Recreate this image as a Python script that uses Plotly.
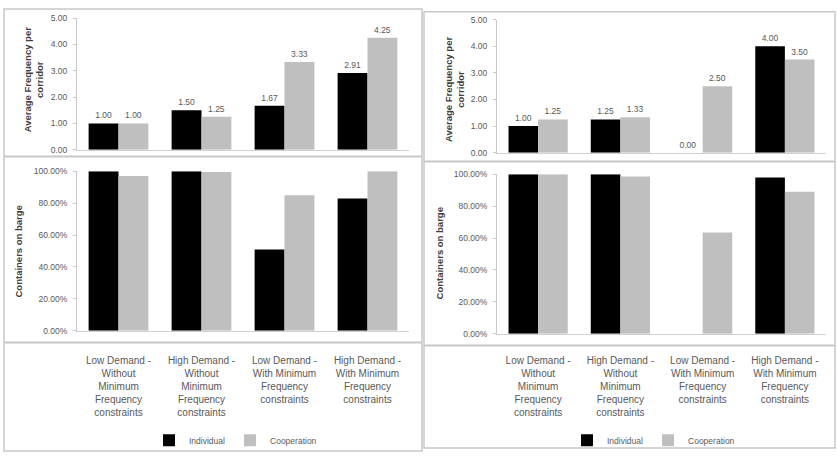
import plotly.graph_objects as go

# ---------------- data ----------------
categories = ["LD-noMin", "HD-noMin", "LD-Min", "HD-Min"]
category_labels = [
    "Low Demand -<br>Without<br>Minimum<br>Frequency<br>constraints",
    "High Demand -<br>Without<br>Minimum<br>Frequency<br>constraints",
    "Low Demand -<br>With Minimum<br>Frequency<br>constraints",
    "High Demand -<br>With Minimum<br>Frequency<br>constraints",
]
series_names = ["Individual", "Cooperation"]

left_freq_individual = [1.00, 1.50, 1.67, 2.91]
left_freq_cooperation = [1.00, 1.25, 3.33, 4.25]
left_barge_individual = [1.00, 1.00, 0.51, 0.83]
left_barge_cooperation = [0.97, 0.995, 0.85, 1.00]

right_freq_individual = [1.00, 1.25, 0.00, 4.00]
right_freq_cooperation = [1.25, 1.33, 2.50, 3.50]
right_barge_individual = [1.00, 1.00, 0.00, 0.98]
right_barge_cooperation = [1.00, 0.985, 0.635, 0.89]

freq_ticks = [0, 1, 2, 3, 4, 5]
barge_ticks = [0, 0.2, 0.4, 0.6, 0.8, 1.0]

# ---------------- style ----------------
W, H = 837, 458
BLACK = "#000000"
GRAY = "#bfbfbf"
TXT = "#595959"
FONT = "Liberation Sans, Arial, sans-serif"
LINE = "#c8c8c8"


def px_x(x):
    return x / W


def px_y(y):
    return 1 - y / H


fig = go.Figure()


def add_bars(xa, ya, ind, coop, legend, show_text):
    for name, vals, col in [(series_names[0], ind, BLACK), (series_names[1], coop, GRAY)]:
        fig.add_trace(go.Bar(
            x=categories, y=vals, name=name, marker=dict(color=col, line=dict(width=0)),
            xaxis=xa, yaxis=ya, legend=legend, showlegend=show_text,
            text=[f"{v:.2f}" for v in vals] if show_text else None,
            textposition="outside" if show_text else None,
            textfont=dict(size=8.5, color=TXT, family=FONT),
            cliponaxis=False,
        ))


add_bars("x", "y", left_freq_individual, left_freq_cooperation, "legend", True)
add_bars("x2", "y2", left_barge_individual, left_barge_cooperation, "legend", False)
add_bars("x3", "y3", right_freq_individual, right_freq_cooperation, "legend2", True)
add_bars("x4", "y4", right_barge_individual, right_barge_cooperation, "legend2", False)

tickfont = dict(size=8.5, color=TXT, family=FONT)


def xaxis(dom, anchor, labels, standoff):
    d = dict(domain=dom, anchor=anchor, type="category", categoryorder="array",
             categoryarray=categories, showline=True, linecolor="#d0d0d0", linewidth=1,
             ticks="", showgrid=False, zeroline=False, fixedrange=True)
    if labels:
        d.update(showticklabels=True, tickmode="array", tickvals=categories,
                 ticktext=category_labels, tickfont=dict(size=10, color=TXT, family=FONT),
                 ticklabelstandoff=standoff)
    else:
        d.update(showticklabels=False)
    return d


def yaxis(dom, anchor, rng, tickvals, fmt):
    return dict(domain=dom, anchor=anchor, range=rng, tickmode="array", tickvals=tickvals,
                tickformat=fmt, tickfont=tickfont, showline=True, linecolor="#c8c8c8",
                linewidth=1, ticks="outside", ticklen=3, tickcolor="#c8c8c8",
                ticklabelstandoff=4,
                showgrid=False, zeroline=False, fixedrange=True)


lx = [px_x(77), px_x(409)]
rx = [px_x(497), px_x(826)]

fig.update_layout(
    width=W, height=H, autosize=False,
    margin=dict(l=0, r=0, t=0, b=0),
    paper_bgcolor="white", plot_bgcolor="white",
    barmode="group", bargap=0.28, bargroupgap=0,
    font=dict(family=FONT, color=TXT),
    xaxis=xaxis(lx, "y", False, 0),
    yaxis=yaxis([px_y(148), px_y(13.3)], "x", [0, 5], freq_ticks, ".2f"),
    xaxis2=xaxis(lx, "y2", True, 20),
    yaxis2=yaxis([px_y(333), px_y(170)], "x2", [0, 1], barge_ticks, ".2%"),
    xaxis3=xaxis(rx, "y3", False, 0),
    yaxis3=yaxis([px_y(151), px_y(15)], "x3", [0, 5], freq_ticks, ".2f"),
    xaxis4=xaxis(rx, "y4", True, 17),
    yaxis4=yaxis([px_y(336), px_y(173)], "x4", [0, 1], barge_ticks, ".2%"),
    legend=dict(orientation="h", x=px_x(149), y=px_y(445), xanchor="left", yanchor="middle",
                font=dict(size=8.5, color=TXT, family=FONT), itemwidth=30,
                bgcolor="rgba(0,0,0,0)", traceorder="normal"),
    legend2=dict(orientation="h", x=px_x(567), y=px_y(445), xanchor="left", yanchor="middle",
                 font=dict(size=8.5, color=TXT, family=FONT), itemwidth=30,
                 bgcolor="rgba(0,0,0,0)", traceorder="normal"),
)

# panel frames and separators
shapes = []


def rect(x0, y0, x1, y1):
    shapes.append(dict(type="rect", xref="paper", yref="paper", x0=px_x(x0), x1=px_x(x1),
                       y0=px_y(y1), y1=px_y(y0), line=dict(color=LINE, width=1.5)))


def hline(x0, x1, y):
    shapes.append(dict(type="line", xref="paper", yref="paper", x0=px_x(x0), x1=px_x(x1),
                       y0=px_y(y), y1=px_y(y), line=dict(color=LINE, width=2)))


rect(4, 4, 422, 456)
hline(4, 422, 155)
hline(4, 422, 345)
rect(424, 7, 835, 453)
hline(424, 835, 160)
hline(424, 835, 348)
fig.update_layout(shapes=shapes)

# axis titles
titlefont = dict(size=9.5, color="#404040", family=FONT)
annots = [
    dict(text="<b>Average Frequency per<br>corridor</b>", x=px_x(33), y=px_y(76)),
    dict(text="<b>Containers on barge</b>", x=px_x(18), y=px_y(252)),
    dict(text="<b>Average Frequency per<br>corridor</b>", x=px_x(454), y=px_y(86)),
    dict(text="<b>Containers on barge</b>", x=px_x(439), y=px_y(254)),
]
for a in annots:
    fig.add_annotation(xref="paper", yref="paper", showarrow=False, textangle=-90,
                       font=titlefont, xanchor="center", yanchor="middle", **a)

fig.write_html("out.html", config={"displayModeBar": False},
               post_script="document.body.style.margin='0';")
